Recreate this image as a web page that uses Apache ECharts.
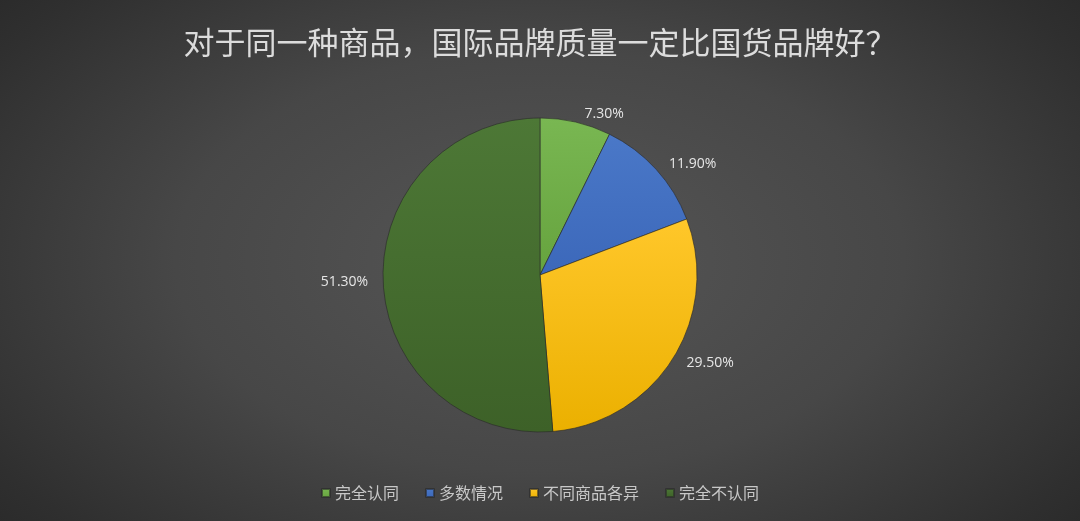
<!DOCTYPE html>
<html>
<head>
<meta charset="utf-8">
<script src="https://cdn.jsdelivr.net/npm/echarts@6/dist/echarts.min.js"></script>
<style>
  html, body { margin: 0; padding: 0; }
  #chart {
    width: 1080px; height: 521px;
    background: radial-gradient(ellipse 75% 90% at 50% 50%, #565656 0%, #474747 45%, #2f2f2f 80%, #242424 100%);
  }
</style>
</head>
<body>
<div id="chart"></div>
<script>
  /* 对于同一种商品，国际品牌质量一定比国货品牌好？ */
  var titleText = '对于同一种商品，国际品牌质量一定比国货品牌好？';
  // name
  var names = ['完全认同', '多数情况', '不同商品各异', '完全不认同'];
  // value (%)
  var values = [7.3, 11.9, 29.5, 51.3];
  var colors = ['#79b752', '#4a78c8', '#ffc72a', '#4d7836'];
  var colorsDark = ['#66a33e', '#3c68ba', '#ebb000', '#3d6128'];

  var myChart = echarts.init(document.getElementById('chart'));

  /* 组合数组 */
  var pieData = [];
  for (var i in names) {
    pieData[i] = {
      value: values[i],
      name: names[i],
      itemStyle: {
        color: {
          type: 'linear', x: 0, y: 0, x2: 0, y2: 1,
          colorStops: [
            { offset: 0, color: colors[i] },
            { offset: 1, color: colorsDark[i] }
          ]
        }
      }
    };
  }

  var option = {
    title: {
      text: titleText,
      left: 'center',
      top: 22,
      textStyle: {
        fontSize: 31,
        fontWeight: 'normal',
        color: '#dcdcdc',
        fontFamily: 'Noto Sans CJK SC'
      }
    },
    legend: {
      bottom: 15,
      left: 'center',
      data: names,
      icon: 'rect',
      itemWidth: 8,
      itemHeight: 8,
      itemGap: 26,
      textStyle: {
        fontSize: 16,
        color: '#c8c8c8',
        fontFamily: 'Noto Sans CJK SC'
      }
    },
    series: [
      {
        type: 'pie',
        radius: [0, 157],
        center: [540, 275],
        startAngle: 90,
        clockwise: true,
        data: pieData,
        label: {
          show: true,
          position: 'outside',
          formatter: function (p) { return p.value.toFixed(2) + '%'; },
          fontSize: 14,
          color: '#e6e6e6',
          fontFamily: 'Open Sans'
        },
        labelLine: {
          show: false,
          length: 8,
          length2: 2
        },
        itemStyle: {
          borderColor: 'rgba(40,40,40,0.6)',
          borderWidth: 1
        },
        emphasis: { scale: false }
      }
    ],
    animation: false
  };
  myChart.setOption(option);
</script>
</body>
</html>
